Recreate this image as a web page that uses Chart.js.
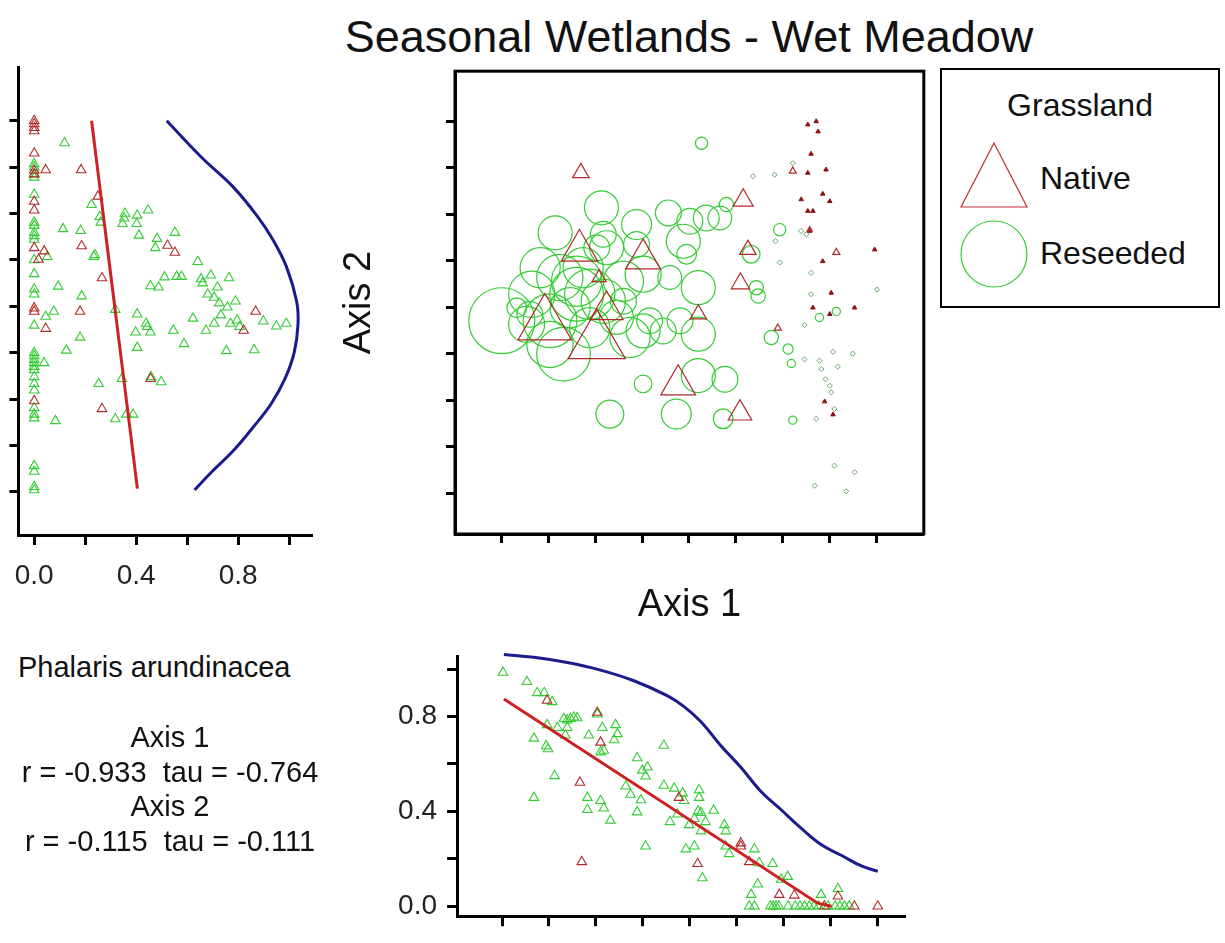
<!DOCTYPE html>
<html lang="en">
<head>
<meta charset="utf-8">
<title>Seasonal Wetlands - Wet Meadow</title>
<script src="https://cdn.jsdelivr.net/npm/chart.js@4.4.1/dist/chart.umd.min.js"></script>
<style>
  html, body { margin: 0; padding: 0; background: #fff; }
  body { position: relative; width: 1225px; height: 943px; overflow: hidden;
         font-family: "Liberation Sans", Arial, sans-serif; color: #111; }
  canvas { position: absolute; }
  #sideChart { left: 0; top: 60px; }
  /* bubble charts keep room for the biggest bubble (33px) on the free sides */
  #mainChart { left: 330px; top: 37px; }
  #bottomChart { left: 330px; top: 630px; }
  #title { position: absolute; left: 689px; top: 12px; transform: translateX(-50%);
           font-size: 45px; line-height: 50px; white-space: nowrap; }
  #species { position: absolute; left: 18px; top: 649px; font-size: 29px; line-height: 36px; white-space: nowrap; }
  #stats { position: absolute; left: 5px; top: 720px; width: 330px; text-align: center;
           font-size: 29px; line-height: 34.7px; white-space: nowrap; }
  #legend { position: absolute; left: 940px; top: 68px; width: 276px; height: 236px; border: 2px solid #000; background: #fff; }
  #legend .head { position: absolute; left: 0; width: 276px; top: 15px; text-align: center; font-size: 32px; line-height: 40px; }
  #legend .lab { position: absolute; left: 98px; font-size: 32px; line-height: 40px; }
  #legend svg { position: absolute; left: 18px; }
</style>
</head>
<body>
<div id="title">Seasonal Wetlands - Wet Meadow</div>

<canvas id="sideChart" width="330" height="540"></canvas>
<canvas id="mainChart" width="628" height="603"></canvas>
<canvas id="bottomChart" width="600" height="313"></canvas>

<div id="legend">
  <div class="head">Grassland</div>
  <svg width="68" height="68" style="top:72px"><polygon points="34,1 67,65 1,65" fill="none" stroke="#c03030" stroke-width="1.2"/></svg>
  <div class="lab" style="top:88px">Native</div>
  <svg width="68" height="68" style="top:150px"><circle cx="34" cy="34" r="33" fill="none" stroke="#33cc33" stroke-width="1.2"/></svg>
  <div class="lab" style="top:163px">Reseeded</div>
</div>

<div id="species">Phalaris arundinacea</div>
<div id="stats">Axis 1<br>r = -0.933&nbsp; tau = -0.764<br>Axis 2<br>r = -0.115&nbsp; tau = -0.111</div>

<script>
// cover labels shown on the abundance axes
const coverTickValues = [0, 0.4, 0.8];
const coverTickLabels = ['0.0', '0.4', '0.8'];

// ordination scores (Axis 1, Axis 2) with Phalaris cover for each plot
const nativeAxis1 = [1.69, 1.66, 3.02, 0.92, 2.03, 2.24, 3.77, 5.09, 5.16, 5.26,
  5.10, 4.20, 5.90, 6.22, 7.15, 6.58, 2.08,
  6.54, 6.72, 6.76, 6.61, 6.54, 6.93, 6.40, 6.86, 7.01, 6.54,
  6.65, 6.58, 6.86, 7.04, 6.65, 7.01, 7.54, 7.97, 6.90, 7.08];
const nativeAxis2 = [6.89, 5.22, 5.04, 3.63, 3.25, 3.94, 2.33, 1.72, 6.30, 5.24,
  4.51, 3.85, 3.55, 6.93, 5.18, 5.67, 4.64,
  7.93, 8.00, 7.78, 7.30, 6.89, 6.96, 6.32, 6.44, 6.28, 6.07,
  6.07, 5.64, 4.99, 4.31, 3.99, 3.85, 3.99, 5.24, 1.97, 1.69];
const nativeCover = [0.28, 0.62, 0.59, 0.91, 0.97, 0.56, 0.59, 0.40, 0.34, 0.28,
  0.31, 0.28, 0.12, 0.12, 0.12, 0.09, 0.24,
  0, 0, 0, 0, 0, 0, 0, 0, 0, 0,
  0, 0, 0, 0, 0, 0, 0, 0, 0, 0];

const reseededAxis1 = [4.27, 2.13, 1.14, 2.88, 3.56, 3.88, 4.02, 4.37, 4.66, 4.80,
  2.17, 2.24, 2.88, 3.95, 5.94, 5.33, 5.44, 5.48, 4.20, 4.20,
  4.20, 4.77, 3.73, 2.31, 3.02, 4.73, 5.76, 6.12, 6.19, 6.22,
  6.79, 7.15, 0.00, 0.64, 0.53, 1.03, 1.24, 1.32, 1.60, 1.74,
  0.82, 1.03, 1.88, 2.17, 2.60, 3.02, 3.02, 3.16, 3.45, 2.74,
  3.59, 2.45, 1.46, 0.60, 0.32, 2.03, 2.60, 3.81, 1.60, 1.88,
  5.37, 5.83, 6.22, 6.40, 6.51, 5.85, 5.94, 6.61, 6.61, 8.02,
  6.47, 7.08, 7.50, 6.47, 6.79, 6.83, 7.18, 6.92, 7.01, 7.04,
  6.72, 7.11, 7.11, 7.54, 6.69, 7.36];
const reseededAxis2 = [7.53, 6.14, 5.60, 5.78, 6.03, 5.42, 5.85, 5.92, 5.92, 6.21,
  5.57, 5.28, 5.35, 5.14, 5.67, 5.14, 4.42, 4.24, 4.42, 3.42,
  2.53, 2.45, 1.70, 1.70, 2.35, 1.60, 3.35, 3.10, 2.79, 1.57,
  3.78, 3.91, 3.71, 4.28, 3.63, 3.71, 4.64, 2.99, 4.28, 4.85,
  4.85, 3.20, 3.56, 4.13, 4.56, 4.71, 3.49, 3.71, 3.49, 3.35,
  4.64, 3.78, 3.99, 3.85, 3.99, 5.28, 4.13, 3.71, 4.56, 4.28,
  6.82, 6.85, 7.10, 5.64, 5.57, 5.42, 4.96, 4.74, 4.28, 4.38,
  3.62, 3.04, 3.00, 2.88, 2.85, 2.67, 2.72, 2.45, 2.31, 2.17,
  1.60, 1.81, 0.59, 0.45, 0.16, 0.04];
const reseededCover = [0.18, 0.50, 0.50, 0.44, 0.38, 0.50, 0.38, 0.38, 0.35, 0.21,
  0.38, 0.50, 0.38, 0.29, 0.18, 0.26, 0.21, 0.21, 0.50, 0.50,
  0.50, 0.38, 0.44, 0.41, 0.26, 0.29, 0.21, 0.15, 0.12, 0.12,
  0.12, 0.12, 0.97, 0.68, 0.53, 0.79, 0.68, 0.79, 0.79, 0.59,
  0.59, 0.68, 0.59, 0.65, 0.59, 0.53, 0.50, 0.38, 0.38, 0.59,
  0.35, 0.50, 0.59, 0.38, 0.29, 0.38, 0.38, 0.38, 0.74, 0.74,
  0, 0, 0, 0, 0, 0, 0, 0, 0, 0,
  0, 0, 0, 0, 0, 0, 0, 0, 0, 0,
  0, 0, 0, 0, 0, 0];

// side panel: cover against Axis 2
const sideNativeCover = [0, 0, 0, 0, 0, 0, 0, 0, 0, 0, 0, 0, 0,
  0.045, 0.184, 0.250, 0.186, 0.039, 0.017, 0.523, 0.552, 0.266, 0.822,
  0.869, 0.180, 0.045, 0.457, 0.266];
const sideNativeAxis2 = [8.00, 7.93, 7.85, 7.78, 7.30, 6.93, 6.85, 6.26, 6.07, 5.26, 3.96, 3.89, 1.96,
  6.94, 6.94, 6.37, 5.30, 5.19, 5.01, 5.31, 5.16, 4.61, 3.48,
  3.89, 3.89, 3.52, 2.44, 1.79];

const sideReseededCover = [0, 0, 0, 0, 0, 0, 0, 0, 0, 0,
  0, 0, 0, 0, 0, 0, 0, 0, 0, 0,
  0, 0, 0, 0, 0, 0, 0, 0, 0, 0, 0,
  0.119, 0.225, 0.257, 0.261, 0.356, 0.353, 0.347, 0.404, 0.447, 0.402,
  0.411, 0.113, 0.182, 0.238, 0.234, 0.051, 0.482, 0.475, 0.552, 0.642,
  0.094, 0.186, 0.456, 0.488, 0.511, 0.559, 0.578, 0.655, 0.693, 0.764,
  0.661, 0.719, 0.681, 0.706, 0.726, 0.758, 0.790, 0.732, 0.706, 0.770,
  0.796, 0.806, 0.899, 0.950, 0.989, 0.623, 0.674, 0.546, 0.588, 0.754,
  0.863, 0.077, 0.045, 0.318, 0.404, 0.439, 0.444, 0.456, 0.398, 0.404,
  0.180, 0.126, 0.039, 0.253, 0.344, 0.458, 0.498, 0.318, 0.362, 0.388,
  0.083];
const sideReseededAxis2 = [7.07, 7.00, 6.85, 6.78, 6.41, 5.81, 5.74, 5.59, 5.52, 5.44,
  5.00, 4.70, 4.37, 4.26, 3.59, 3.00, 2.93, 2.85, 2.78, 2.70,
  2.63, 2.48, 2.33, 2.19, 1.81, 1.67, 1.59, 0.56, 0.44, 0.11, 0.04,
  7.52, 6.19, 5.93, 5.81, 6.00, 5.90, 5.78, 5.96, 6.07, 5.78,
  5.53, 5.67, 5.63, 5.11, 5.07, 5.07, 5.46, 5.26, 5.59, 4.96,
  4.43, 4.22, 4.44, 4.41, 4.63, 4.64, 4.64, 4.59, 4.67, 4.61,
  4.50, 4.41, 4.26, 4.19, 4.07, 3.98, 4.11, 3.81, 3.63, 3.63,
  3.70, 3.56, 3.68, 3.57, 3.63, 3.74, 3.48, 3.48, 3.19, 3.04,
  3.06, 3.89, 3.78, 3.93, 3.83, 3.63, 3.56, 3.44, 3.44, 3.11,
  3.33, 3.05, 2.78, 2.33, 2.44, 2.48, 2.37, 1.57, 1.67, 1.67,
  1.53];

const sideFitCover = [0.225, 0.405];
const sideFitAxis2 = [8.00, 0.07];
const sideSmoothCover = [0.52, 0.655, 0.783, 0.873, 0.935, 0.99, 1.03, 1.035,
  1.02, 0.985, 0.93, 0.86, 0.78, 0.70, 0.629];
const sideSmoothAxis2 = [8.00, 7.22, 6.56, 5.96, 5.45, 4.85, 4.10, 3.60,
  3.00, 2.45, 1.90, 1.40, 0.88, 0.45, 0.04];

// bottom panel: cover against Axis 1
const bottomNativeAxis1 = [0.96, 2.03, 2.10, 1.66, 1.70, 3.77, 4.17, 5.09, 5.09, 5.27,
  5.91, 6.23, 6.87, 7.16, 7.51, 8.01];
const bottomNativeCover = [0.868, 0.817, 0.691, 0.522, 0.187, 0.458, 0.179, 0.266, 0.253, 0.187,
  0.049, 0.046, 0, 0.042, 0, 0];

const bottomReseededAxis1 = [0.02, 0.53, 0.75, 0.90, 1.07, 0.68, 0.96, 1.18, 0.94, 0.98,
  1.12, 0.68, 1.32, 1.39, 1.46, 1.53, 1.60, 1.39, 1.35, 1.85,
  2.14, 2.42, 2.46, 2.39, 2.10, 2.17, 1.82, 2.10, 2.17, 1.82,
  2.31, 2.03, 2.88, 3.10, 2.99, 3.06, 3.45, 2.64, 2.74, 2.96,
  2.88, 3.06, 3.45, 3.67, 3.85, 3.88, 4.20, 4.20, 4.18, 4.24,
  4.51, 3.58, 3.74, 3.99, 4.10, 4.34, 4.24, 4.74, 4.77, 3.92,
  4.10, 4.27, 4.77, 4.84, 5.38, 5.48, 5.77, 5.45, 5.31, 6.09,
  5.95, 6.80, 7.16,
  5.27, 5.38, 5.72, 5.78, 5.84, 5.90, 6.10, 6.25, 6.35, 6.45,
  6.55, 6.65, 6.75, 6.95, 7.10, 7.20, 7.30, 7.40];
const bottomReseededCover = [0.986, 0.947, 0.900, 0.900, 0.862, 0.708, 0.765, 0.753, 0.676, 0.663,
  0.550, 0.458, 0.791, 0.785, 0.791, 0.797, 0.794, 0.753, 0.721, 0.721,
  0.753, 0.765, 0.727, 0.701, 0.650, 0.657, 0.458, 0.445, 0.413, 0.407,
  0.362, 0.810, 0.625, 0.586, 0.573, 0.548, 0.678, 0.506, 0.471, 0.448,
  0.397, 0.253, 0.509, 0.497, 0.477, 0.445, 0.490, 0.458, 0.401, 0.394,
  0.404, 0.356, 0.388, 0.343, 0.369, 0.356, 0.317, 0.343, 0.317, 0.241,
  0.253, 0.119, 0.253, 0.221, 0.241, 0.183, 0.179, 0.093, 0.049, 0.125,
  0.113, 0.049, 0.074,
  0, 0, 0, 0, 0, 0, 0, 0, 0, 0,
  0, 0, 0, 0, 0, 0, 0, 0];

const bottomFitAxis1 = [0.04, 6.73, 7.02];
const bottomFitCover = [0.874, 0.013, 0];
const bottomSmoothAxis1 = [0.04, 0.68, 1.39, 2.10, 2.81, 3.53, 3.88, 4.24, 4.67,
  5.09, 5.52, 5.95, 6.37, 6.80, 7.23, 7.66, 8.01];
const bottomSmoothCover = [1.062, 1.050, 1.028, 0.996, 0.951, 0.887, 0.842, 0.778, 0.676,
  0.586, 0.484, 0.407, 0.330, 0.260, 0.215, 0.170, 0.147];

// ---- styling
const GREEN = '#33cc33';
const NATIVE_RED = '#b02a2a';
const FIT_RED = '#cc2222';
const SMOOTH_BLUE = '#1b1b8c';
const coverToRadius = 34;   // px of bubble radius for cover = 1
const zeroRadius = 2.6;

Chart.defaults.font.family = '"Liberation Sans", Arial, sans-serif';
Chart.defaults.color = '#222';

const tickFont = { size: 28 };
const axisBorder = { display: true, color: '#000', width: 3 };

function tickGrid(len) {
  return { display: true, drawOnChartArea: false, drawTicks: true,
           tickLength: len, tickWidth: 3, tickColor: '#000' };
}

function keepRange(lo, hi) {
  return scale => {
    scale.ticks = scale.ticks.filter(t => t.value >= lo - 1e-9 && t.value <= hi + 1e-9);
  };
}

function coverLabel(value) {
  const i = coverTickValues.findIndex(t => Math.abs(t - value) < 1e-6);
  return i >= 0 ? coverTickLabels[i] : '';
}

const pairs = (xs, ys) => xs.map((x, i) => ({ x, y: ys[i] }));

function bubbles(xs, ys, covers, wantZero) {
  return xs
    .map((x, i) => ({ x, y: ys[i], r: covers[i] > 0 ? covers[i] * coverToRadius : zeroRadius, c: covers[i] }))
    .filter(p => (p.c === 0) === wantZero);
}

function triangles(data, color) {
  return { data, pointStyle: 'triangle', pointRadius: 5.5, borderWidth: 1.1,
           borderColor: color, backgroundColor: 'rgba(0,0,0,0)', showLine: false };
}

function curve(data, color, tension) {
  return { data, showLine: true, borderColor: color, borderWidth: 3, pointRadius: 0,
           tension, fill: false, clip: false };
}

const baseOptions = {
  responsive: false,
  animation: false,
  events: [],
  plugins: { legend: { display: false }, tooltip: { enabled: false } }
};

// box round the main ordination plot
const frame = {
  id: 'frame',
  afterDraw(chart) {
    const { ctx, chartArea: a } = chart;
    ctx.save();
    ctx.strokeStyle = '#000';
    ctx.lineWidth = 3;
    ctx.strokeRect(a.left, a.top, a.right - a.left, a.bottom - a.top);
    ctx.restore();
  }
};

// side panel: cover vs Axis 2
new Chart(document.getElementById('sideChart'), {
  type: 'scatter',
  data: {
    datasets: [
      curve(pairs(sideSmoothCover, sideSmoothAxis2), SMOOTH_BLUE, 0.35),
      curve(pairs(sideFitCover, sideFitAxis2), FIT_RED, 0),
      triangles(pairs(sideNativeCover, sideNativeAxis2), NATIVE_RED),
      triangles(pairs(sideReseededCover, sideReseededAxis2), GREEN)
    ]
  },
  options: {
    ...baseOptions,
    layout: { padding: { top: 7, right: 18 } },
    scales: {
      x: {
        type: 'linear', min: -0.062, max: 1.09,
        ticks: { stepSize: 0.2, includeBounds: false, callback: coverLabel, font: tickFont,
                 padding: 14, maxRotation: 0, autoSkip: false },
        grid: tickGrid(10), border: axisBorder,
        afterBuildTicks: keepRange(0, 1),
        afterFit: s => { s.height = 65; }
      },
      y: {
        type: 'linear', min: -0.93, max: 9.16,
        ticks: { stepSize: 1, includeBounds: false, display: false },
        grid: tickGrid(9), border: axisBorder,
        afterBuildTicks: keepRange(0, 8),
        afterFit: s => { s.width = 14; }
      }
    }
  }
});

// main ordination: symbol size follows cover
new Chart(document.getElementById('mainChart'), {
  type: 'bubble',
  data: {
    datasets: [
      { label: 'Native', data: bubbles(nativeAxis1, nativeAxis2, nativeCover, false),
        pointStyle: 'triangle', borderColor: NATIVE_RED, backgroundColor: 'rgba(0,0,0,0)', borderWidth: 1.2 },
      { data: bubbles(nativeAxis1, nativeAxis2, nativeCover, true),
        pointStyle: 'triangle', borderColor: '#8b1010', backgroundColor: '#8b1010', borderWidth: 1 },
      { label: 'Reseeded', data: bubbles(reseededAxis1, reseededAxis2, reseededCover, false),
        pointStyle: 'circle', borderColor: GREEN, backgroundColor: 'rgba(0,0,0,0)', borderWidth: 1.2 },
      { data: bubbles(reseededAxis1, reseededAxis2, reseededCover, true),
        pointStyle: 'rectRot', borderColor: '#6aa86a', backgroundColor: 'rgba(0,0,0,0)', borderWidth: 1 }
    ]
  },
  options: {
    ...baseOptions,
    layout: { padding: 0 },
    scales: {
      x: {
        type: 'linear', min: -1.0, max: 9.02,
        ticks: { stepSize: 1, includeBounds: false, display: false },
        grid: tickGrid(9), border: axisBorder,
        afterBuildTicks: keepRange(0, 8),
        afterFit: s => { s.height = 106; },
        title: { display: true, text: 'Axis 1', font: { size: 38 }, color: '#111', padding: { top: 0, bottom: 12 } }
      },
      y: {
        type: 'linear', min: -0.88, max: 9.08,
        ticks: { stepSize: 1, includeBounds: false, display: false },
        grid: tickGrid(9), border: axisBorder,
        afterBuildTicks: keepRange(0, 8),
        afterFit: s => { s.width = 125; },
        title: { display: true, text: 'Axis 2', font: { size: 38 }, color: '#111', padding: { top: 7, bottom: 0 } }
      }
    }
  },
  plugins: [frame]
});

// bottom panel: cover vs Axis 1
new Chart(document.getElementById('bottomChart'), {
  type: 'scatter',
  data: {
    datasets: [
      curve(pairs(bottomSmoothAxis1, bottomSmoothCover), SMOOTH_BLUE, 0.4),
      curve(pairs(bottomFitAxis1, bottomFitCover), FIT_RED, 0),
      triangles(pairs(bottomNativeAxis1, bottomNativeCover), NATIVE_RED),
      triangles(pairs(bottomReseededAxis1, bottomReseededCover), GREEN)
    ]
  },
  options: {
    ...baseOptions,
    layout: { padding: { top: 22, right: 25 } },
    scales: {
      x: {
        type: 'linear', min: -0.96, max: 8.59,
        ticks: { stepSize: 1, includeBounds: false, display: false },
        grid: tickGrid(10), border: axisBorder,
        afterBuildTicks: keepRange(0, 8),
        afterFit: s => { s.height = 5; }
      },
      y: {
        type: 'linear', min: -0.042, max: 1.052,
        ticks: { stepSize: 0.2, includeBounds: false, callback: coverLabel, font: tickFont,
                 padding: 10, autoSkip: false },
        grid: tickGrid(10), border: axisBorder,
        afterBuildTicks: keepRange(0, 1),
        afterFit: s => { s.width = 127; }
      }
    }
  }
});
</script>
</body>
</html>
